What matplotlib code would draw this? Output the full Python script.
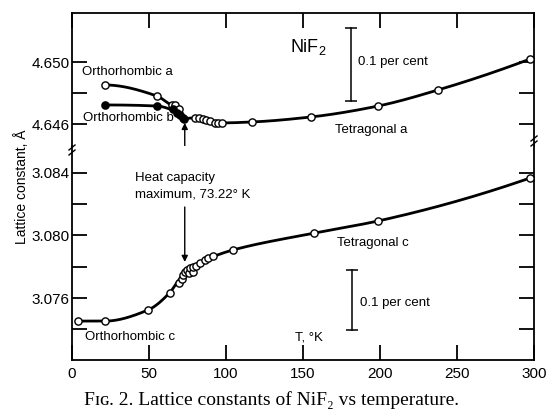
import numpy as np
import matplotlib
matplotlib.use("Agg")
import matplotlib.pyplot as plt
from matplotlib.lines import Line2D

plt.rcParams["font.family"] = ["Liberation Sans", "DejaVu Sans"]
plt.rcParams["mathtext.default"] = "regular"

# ---- data: temperature (K) and lattice constants (Angstrom) ----
t_orth_a = [21.4, 55.2, 65.0, 66.9, 69.5]
a_orth = [4.64853, 4.64782, 4.64725, 4.64725, 4.64699]

t_orth_b = [21.4, 55.2, 65.6, 68.2, 70.1, 72.1, 72.7]
b_orth = [4.64725, 4.64718, 4.64699, 4.64674, 4.64661, 4.64642, 4.64635]

t_tet_a = [79.9, 82.5, 85.0, 87.0, 89.6, 92.9, 94.8, 97.4, 116.9, 155.2,
           198.7, 237.7, 297.4]
a_tet = [4.64642, 4.64642, 4.64635, 4.64629, 4.64622, 4.64610, 4.64610,
         4.64610, 4.64616, 4.64648, 4.64718, 4.64821, 4.65019]

t_c = [4.0, 21.4, 49.4, 63.6, 69.5, 71.2, 72.3, 73.4, 74.9, 76.2, 76.6,
       78.4, 78.4, 80.5, 83.1, 86.4, 88.5, 91.4, 104.4, 157.1, 198.7, 297.4]
c_vals = [3.07453, 3.07453, 3.07524, 3.07635, 3.07694, 3.07719, 3.07747,
          3.07768, 3.07778, 3.07757, 3.07789, 3.07768, 3.07799, 3.07804,
          3.07825, 3.07842, 3.07853, 3.07868, 3.07906, 3.08014, 3.08091,
          3.08365]

T_heat_max = 73.22

x_ticks = [0, 50, 100, 150, 200, 250, 300]
upper_ticks = [4.646, 4.648, 4.650]
upper_labels = ["4.646", "", "4.650"]
lower_ticks = [3.074, 3.076, 3.078, 3.080, 3.082, 3.084]
lower_labels = ["", "3.076", "", "3.080", "", "3.084"]


def _end_slope(h0, h1, d0, d1):
    m = ((2 * h0 + h1) * d0 - h0 * d1) / (h0 + h1)
    if np.sign(m) != np.sign(d0):
        return 0.0
    if np.sign(d0) != np.sign(d1) and abs(m) > abs(3 * d0):
        return 3 * d0
    return m


def pchip(x, y, xs):
    """Monotone piecewise cubic Hermite curve through (x, y)."""
    x = np.asarray(x, float)
    y = np.asarray(y, float)
    h = np.diff(x)
    d = np.diff(y) / h
    n = len(x)
    m = np.zeros(n)
    for k in range(1, n - 1):
        if d[k - 1] * d[k] > 0:
            w1 = 2 * h[k] + h[k - 1]
            w2 = h[k] + 2 * h[k - 1]
            m[k] = (w1 + w2) / (w1 / d[k - 1] + w2 / d[k])
    if n > 2:
        m[0] = _end_slope(h[0], h[1], d[0], d[1])
        m[-1] = _end_slope(h[-1], h[-2], d[-1], d[-2])
    else:
        m[:] = d[0]
    idx = np.clip(np.searchsorted(x, xs) - 1, 0, n - 2)
    t = (xs - x[idx]) / h[idx]
    h00 = 2 * t**3 - 3 * t**2 + 1
    h10 = t**3 - 2 * t**2 + t
    h01 = -2 * t**3 + 3 * t**2
    h11 = t**3 - t**2
    return (h00 * y[idx] + h10 * h[idx] * m[idx]
            + h01 * y[idx + 1] + h11 * h[idx] * m[idx + 1])


def smooth_curve(x, y, bw=2.0, n=600):
    """Light kernel smoothing of scattered points, then a smooth curve."""
    x = np.asarray(x, float)
    y = np.asarray(y, float)
    ux = np.unique(x)
    sm = np.array([np.sum(np.exp(-0.5 * ((x - u) / bw) ** 2) * y)
                   / np.sum(np.exp(-0.5 * ((x - u) / bw) ** 2)) for u in ux])
    xs = np.linspace(ux[0], ux[-1], n)
    return xs, pchip(ux, sm, xs)


W, H = 550, 413
fig = plt.figure(figsize=(W / 100, H / 100), dpi=100)
left, right = 72 / W, 534 / W
top_px, brk_px, bot_px = 13, 146, 360
ax_u = fig.add_axes([left, 1 - brk_px / H, right - left, (brk_px - top_px) / H])
ax_l = fig.add_axes([left, 1 - bot_px / H, right - left, (bot_px - brk_px) / H])

lw_curve = 2.0
open_kw = dict(ls="none", marker="o", ms=5.2, mfc="white", mec="black",
               mew=1.0, zorder=4)
fill_kw = dict(ls="none", marker="o", ms=5.2, mfc="black", mec="black",
               mew=1.0, zorder=4)

# ---- upper panel: a and b ----
junction_t, junction_v = t_orth_b[-1], b_orth[-1]
xs, ys = smooth_curve(t_orth_a + [junction_t], a_orth + [junction_v])
ax_u.plot(xs, ys, color="black", lw=lw_curve, zorder=3)
xs, ys = smooth_curve(t_orth_b, b_orth)
ax_u.plot(xs, ys, color="black", lw=lw_curve, zorder=3)
xs, ys = smooth_curve([junction_t] + t_tet_a, [junction_v] + a_tet)
ax_u.plot(xs, ys, color="black", lw=lw_curve, zorder=3)

ax_u.plot(t_orth_a, a_orth, **open_kw)
ax_u.plot(t_orth_b, b_orth, **fill_kw)
ax_u.plot(t_tet_a, a_tet, **open_kw)

# ---- lower panel: c ----
xs, ys = smooth_curve(t_c, c_vals)
ax_l.plot(xs, ys, color="black", lw=lw_curve, zorder=3)
ax_l.plot(t_c, c_vals, **open_kw)

# ---- axes styling ----
for ax in (ax_u, ax_l):
    ax.set_xlim(0, 300)
    ax.set_xticks(x_ticks)
    for s in ax.spines.values():
        s.set_linewidth(1.3)
    ax.tick_params(axis="both", direction="in", length=11, width=1.3,
                   labelsize=11, left=True, right=True, pad=1.5)

ax_u.set_ylim(4.64462, 4.65314)
ax_u.set_yticks(upper_ticks)
ax_u.set_yticklabels(upper_labels)
ax_u.spines["bottom"].set_visible(False)
ax_u.tick_params(axis="x", top=True, bottom=False, labelbottom=False)

ax_l.set_ylim(3.07205, 3.08569)
ax_l.set_yticks(lower_ticks)
ax_l.set_yticklabels(lower_labels)
ax_l.spines["top"].set_visible(False)
ax_l.tick_params(axis="x", top=False, bottom=True, labelbottom=True, pad=5)

# ---- labels in the plot ----
fs = 9.5
ax_u.text(6.5, 4.64936, "Orthorhombic a", fontsize=fs, va="center")
ax_u.text(7.1, 4.64640, "Orthorhombic b", fontsize=fs, va="center")
ax_u.text(170.8, 4.64565, "Tetragonal a", fontsize=fs, va="center")
ax_u.text(141.6, 4.65096, "NiF$_2$", fontsize=13, va="center")

bar_u = [4.6475, 4.6475 * 1.001]
ax_u.plot([181.2, 181.2], bar_u, color="black", lw=1.1,
          marker="_", ms=8, mew=1.1)
ax_u.text(185.5, 4.6500, "0.1 per cent", fontsize=fs, va="center")

ax_l.text(172, 3.0795, "Tetragonal c", fontsize=fs, va="center")
ax_l.text(8.4, 3.07351, "Orthorhombic c", fontsize=fs, va="center")
ax_l.text(145, 3.07351, "T, °K", fontsize=fs, va="center")
bar_l = [3.07396, 3.07778]
ax_l.plot([181.8, 181.8], bar_l, color="black", lw=1.1,
          marker="_", ms=8, mew=1.1)
ax_l.text(187, 3.07568, "0.1 per cent", fontsize=fs, va="center")

ax_l.text(40.9, 3.08365, "Heat capacity", fontsize=fs, va="center")
ax_l.text(40.9, 3.08257, "maximum, 73.22° K", fontsize=fs, va="center")

arrow = dict(arrowstyle="-|>", lw=1.0, color="black", mutation_scale=9,
             shrinkA=0, shrinkB=0)
ax_u.annotate("", xy=(T_heat_max, 4.6461), xytext=(T_heat_max, 4.6443),
              arrowprops=arrow)
ax_l.annotate("", xy=(T_heat_max, 3.0783), xytext=(T_heat_max, 3.0818),
              arrowprops=arrow)

# ---- axis break marks ----
for px, py in ((72, 150), (534, 141)):
    for dy in (-2.5, 2.5):
        fig.add_artist(Line2D([(px - 3) / W, (px + 3) / W],
                              [1 - (py + dy + 2.5) / H, 1 - (py + dy - 2.5) / H],
                              color="black", lw=1.0))

fig.text(22 / W, 1 - 187 / H, "Lattice constant, Å", rotation=90,
         fontsize=10, ha="center", va="center")

fig.text(271 / W, 1 - 400 / H, "Fɪɢ. 2. Lattice constants of NiF₂ vs temperature.",
         fontsize=14, ha="center", va="center",
         family=["Liberation Serif", "DejaVu Serif"])

fig.savefig("out.png", dpi=100, facecolor="white")
